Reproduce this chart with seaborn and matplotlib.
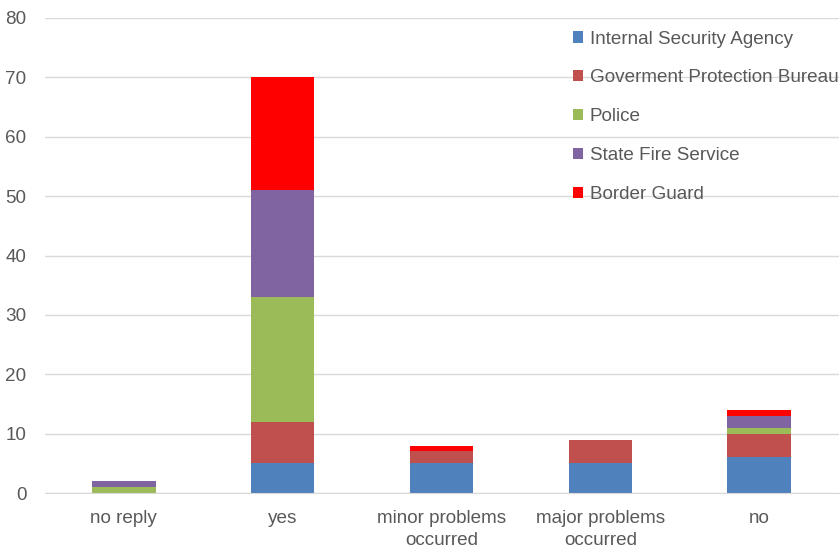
import numpy as np
import pandas as pd
import matplotlib
matplotlib.use('Agg')
import matplotlib.pyplot as plt
import seaborn as sns

categories = ['no reply', 'yes', 'minor problems\noccurred', 'major problems\noccurred', 'no']
agencies = ['Internal Security Agency', 'Goverment Protection Bureau', 'Police',
            'State Fire Service', 'Border Guard']
internal_security = [0, 5, 5, 5, 6]
protection_bureau = [0, 7, 2, 4, 4]
police = [1, 21, 0, 0, 1]
fire_service = [1, 18, 0, 0, 2]
border_guard = [0, 19, 1, 0, 1]
colors = ['#4f81bd', '#c0504d', '#9bbb59', '#8064a2', '#ff0000']

series = [internal_security, protection_bureau, police, fire_service, border_guard]
df = pd.DataFrame(dict(zip(agencies, series)), index=categories)
cum = df.cumsum(axis=1)

sns.set_style('white')
plt.rcParams['font.family'] = ['Liberation Sans', 'DejaVu Sans']

fig = plt.figure(figsize=(8.4, 5.47), dpi=100)
ax = fig.add_axes([44.5 / 840, 1 - 493 / 547, 794 / 840, 475 / 547])

# draw from the top of the stack downward so lower segments cover upper ones
for name, col in reversed(list(zip(agencies, colors))):
    d = pd.DataFrame({'cat': categories, 'val': cum[name].values})
    sns.barplot(data=d, x='cat', y='val', color=col, width=0.4, linewidth=0,
                saturation=1, ax=ax, label=name, order=categories)

ax.set_ylim(0, 80)
ax.set_xlim(-0.5, 4.5)
ax.set_yticks(range(0, 81, 10))
ax.yaxis.grid(True, color='#d9d9d9', linewidth=1)
ax.set_axisbelow(True)
ax.set_xlabel('')
ax.set_ylabel('')
for s in ['top', 'right', 'left']:
    ax.spines[s].set_visible(False)
ax.spines['bottom'].set_color('#d9d9d9')
ax.tick_params(axis='both', length=0, labelsize=13.6, colors='#595959')
ax.tick_params(axis='y', pad=13)
ax.tick_params(axis='x', pad=12)
for t in ax.get_xticklabels():
    t.set_linespacing(1.38)

handles, labels = ax.get_legend_handles_labels()
order = [labels.index(a) for a in agencies]
leg = ax.legend([handles[i] for i in order], [labels[i] for i in order],
                loc='upper left', bbox_to_anchor=(565 / 840, 1 - 23 / 547),
                bbox_transform=fig.transFigure, frameon=False, fontsize=13.6,
                handlelength=0.55, handleheight=0.55, handletextpad=0.35,
                labelspacing=1.16, borderaxespad=0, labelcolor='#595959')

fig.savefig('out.png', dpi=100)
